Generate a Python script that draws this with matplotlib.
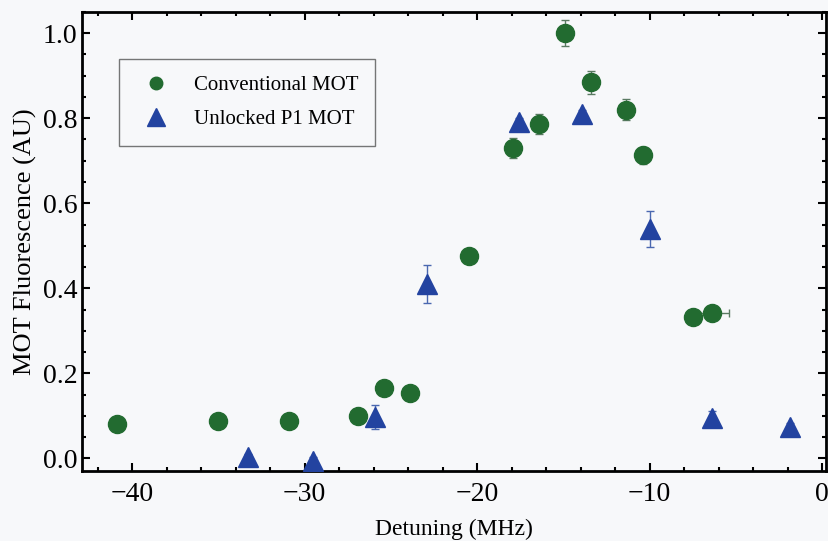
import matplotlib
matplotlib.use("Agg")
import matplotlib.pyplot as plt
from matplotlib.ticker import MultipleLocator, FormatStrFormatter
from matplotlib.lines import Line2D

# conventional MOT
conv_x = [-40.9, -35.0, -30.9, -26.9, -25.4, -23.9, -20.5, -17.9, -16.4, -14.9, -13.4, -11.4, -10.4, -7.5, -6.4]
conv_y = [0.082, 0.089, 0.089, 0.10, 0.165, 0.155, 0.475, 0.73, 0.786, 1.0, 0.885, 0.82, 0.713, 0.332, 0.341]
conv_yerr = [0.01, 0.01, 0.01, 0.01, 0.01, 0.01, 0.012, 0.023, 0.024, 0.03, 0.027, 0.025, 0.02, 0.01, 0.01]
conv_xerr = [0, 0, 0, 0, 0, 0, 0, 0, 0, 0, 0, 0, 0, 0, 1.0]

# unlocked P1 MOT
p1_x = [-33.3, -29.5, -25.9, -22.9, -17.6, -13.9, -10.0, -6.4, -1.85]
p1_y = [0.003, -0.005, 0.097, 0.41, 0.79, 0.81, 0.54, 0.094, 0.075]
p1_yerr = [0.008, 0.008, 0.028, 0.045, 0.01, 0.01, 0.042, 0.017, 0.008]

green = '#226b30'
blue = '#2343a0'

plt.rcParams['font.family'] = ['Liberation Serif', 'DejaVu Serif']

fig = plt.figure(figsize=(8.29, 5.41), dpi=100)
fig.patch.set_facecolor('#f7f8fa')
ax = fig.add_axes([0.099, 0.129, 0.897, 0.849])
ax.set_facecolor('#f7f8fa')

ax.errorbar(p1_x, p1_y, yerr=p1_yerr, fmt='^', color=blue, ecolor='#4a68b0',
            markersize=14, capsize=3, elinewidth=1, zorder=3)
ax.errorbar(conv_x, conv_y, yerr=conv_yerr, xerr=conv_xerr, fmt='o', color=green,
            ecolor='#5a7a62', markersize=13, capsize=3, elinewidth=1, zorder=4)

ax.set_xlim(-42.9, 0.2)
ax.set_ylim(-0.03, 1.05)
ax.xaxis.set_major_locator(MultipleLocator(10))
ax.xaxis.set_minor_locator(MultipleLocator(2))
ax.yaxis.set_major_locator(MultipleLocator(0.2))
ax.yaxis.set_minor_locator(MultipleLocator(0.05))
ax.yaxis.set_major_formatter(FormatStrFormatter('%.1f'))
ax.tick_params(which='both', direction='in', top=True, right=True, labelsize=20)
ax.tick_params(axis='x', which='major', pad=8)
ax.tick_params(which='major', length=6, width=1.5)
ax.tick_params(which='minor', length=3, width=1.5)
for s in ax.spines.values():
    s.set_linewidth(2)

ax.set_xlabel('Detuning (MHz)', fontsize=17, labelpad=8)
ax.set_ylabel('MOT Fluorescence (AU)', fontsize=19, labelpad=4)

handles = [Line2D([], [], ls='none', marker='o', color=green, markersize=9),
           Line2D([], [], ls='none', marker='^', color=blue, markersize=13)]
labels = ['Conventional MOT', 'Unlocked P1 MOT']
leg = ax.legend(handles, labels, loc='upper left', bbox_to_anchor=(0.035, 0.92),
                fontsize=15, frameon=True, fancybox=False, edgecolor='#555555',
                borderpad=0.8, labelspacing=0.7, handletextpad=0.8)
leg.get_frame().set_facecolor('#f7f8fa')

fig.savefig('out.png', dpi=100, facecolor=fig.get_facecolor())
